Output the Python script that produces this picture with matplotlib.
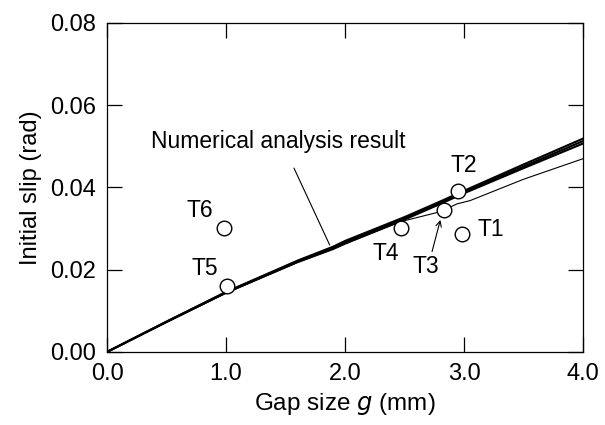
import matplotlib.pyplot as plt

plt.rcParams["font.family"] = ["Liberation Sans", "DejaVu Sans"]

# numerical analysis curves (gap size g in mm -> initial slip in rad)
g_num = [0.0, 0.5, 1.0, 1.6, 1.9, 2.0, 2.5, 2.8, 3.0, 3.5, 4.0]
slip_a = [0.0, 0.0074, 0.0146, 0.0222, 0.0256, 0.0270, 0.0328, 0.0366, 0.0392, 0.0456, 0.0519]
slip_b = [0.0, 0.0073, 0.0144, 0.0219, 0.0252, 0.0265, 0.0322, 0.0360, 0.0386, 0.0447, 0.0507]
slip_c = [0.0, 0.0073, 0.0145, 0.0220, 0.0254, 0.0267, 0.0325, 0.0363, 0.0389, 0.0451, 0.0513]
g_thin = [0.0, 0.5, 1.0, 1.6, 1.9, 2.0, 2.47, 2.8, 2.94, 3.05, 3.5, 4.0]
slip_d = [0.0, 0.0072, 0.0143, 0.0217, 0.0249, 0.0262, 0.0317, 0.0341, 0.0360, 0.0368, 0.0420, 0.0470]

# test results
test_names = ["T1", "T2", "T3", "T4", "T5", "T6"]
test_g = [2.98, 2.95, 2.83, 2.47, 1.01, 0.98]
test_slip = [0.0287, 0.0392, 0.0345, 0.0301, 0.0161, 0.0302]
label_x = [3.22, 3.00, 2.68, 2.34, 0.82, 0.78]
label_y = [0.0297, 0.0453, 0.0207, 0.0240, 0.0204, 0.0343]

fig = plt.figure(figsize=(6.05, 4.25), dpi=100)
ax = fig.add_axes([0.177, 0.172, 0.787, 0.774])

for s in (slip_a, slip_b, slip_c):
    ax.plot(g_num, s, color="black", lw=1.5)
ax.plot(g_thin, slip_d, color="black", lw=0.8)

ax.plot(test_g, test_slip, "o", ms=10.5, mfc="white", mec="black", mew=1.0, zorder=5)

for name, lx, ly in zip(test_names, label_x, label_y):
    ax.text(lx, ly, name, fontsize=16.5, ha="center", va="center")

# arrow for T3 and leader line for the numerical curves
ax.annotate("", xy=(2.80, 0.0321), xytext=(2.73, 0.0244),
            arrowprops=dict(arrowstyle="->", lw=0.8, color="black",
                            shrinkA=0, shrinkB=0))
ax.annotate("", xy=(1.87, 0.0260), xytext=(1.57, 0.0447),
            arrowprops=dict(arrowstyle="-", lw=0.8, color="black",
                            shrinkA=0, shrinkB=0))
ax.text(1.44, 0.0511, "Numerical analysis result", fontsize=16.5,
        ha="center", va="center")

ax.set_xlim(0, 4.0)
ax.set_ylim(0, 0.08)
ax.set_xticks([0.0, 1.0, 2.0, 3.0, 4.0])
ax.set_xticklabels(["0.0", "1.0", "2.0", "3.0", "4.0"])
ax.set_yticks([0.0, 0.02, 0.04, 0.06, 0.08])
ax.set_yticklabels(["0.00", "0.02", "0.04", "0.06", "0.08"])
ax.tick_params(direction="in", length=10.5, width=0.9, top=True, right=True,
               labelsize=17, pad=8)
for sp in ax.spines.values():
    sp.set_linewidth(0.9)

ax.set_xlabel("Gap size $\\mathit{g}$ (mm)", fontsize=17.5, labelpad=4)
ax.set_ylabel("Initial slip (rad)", fontsize=17, labelpad=6)

fig.savefig("out.png", dpi=100)
